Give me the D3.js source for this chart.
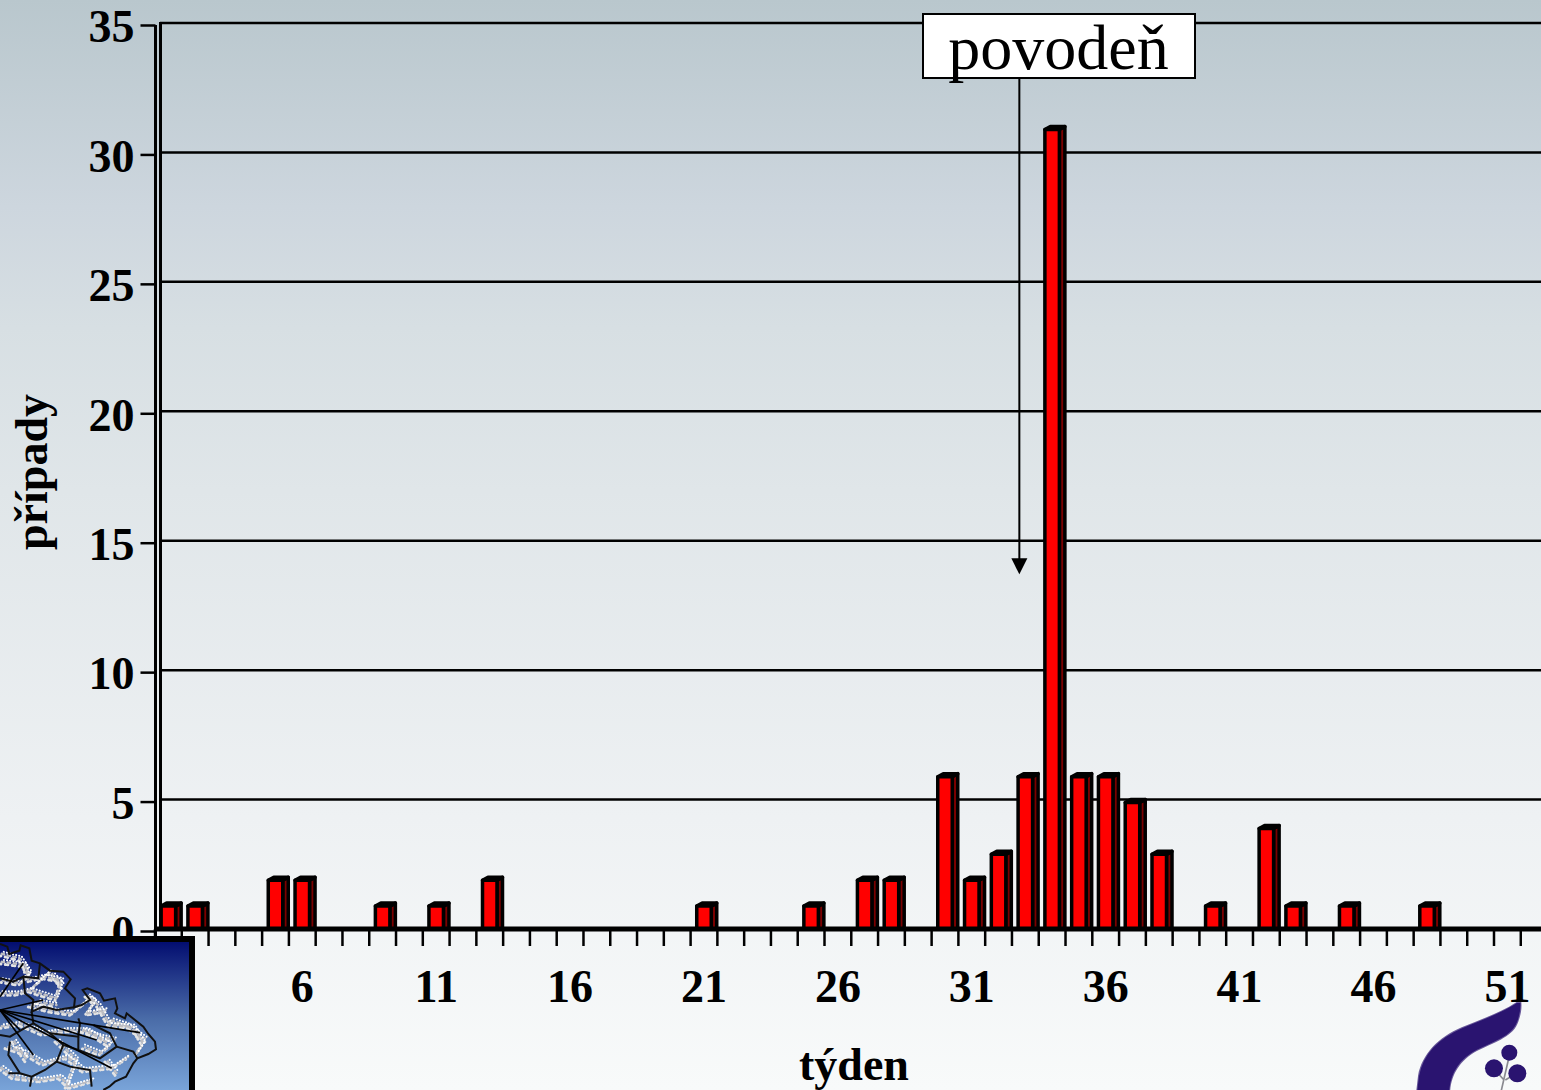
<!DOCTYPE html>
<html>
<head>
<meta charset="utf-8">
<script src="https://cdn.jsdelivr.net/npm/d3@7"></script>
<style>
    html, body { margin: 0; padding: 0; overflow: hidden; }
    svg { display: block; }
    text { font-family: "Liberation Serif", serif; fill: #000; }
</style>
</head>
<body>
<svg id="chart"></svg>
<script>
// data
const weeks = d3.range(1, 53);
const cases = [1, 1, 0, 0, 2, 2, 0, 0, 1, 0, 1, 0, 2, 0, 0, 0, 0, 0, 0, 0, 1, 0, 0, 0, 1, 0,
    2, 2, 0, 6, 2, 3, 6, 31, 6, 6, 5, 3, 0, 1, 0, 4, 1, 0, 1, 0, 0, 1, 0, 0, 0, 0];
const yTicks = [0, 5, 10, 15, 20, 25, 30, 35];
const xLabels = [1, 6, 11, 16, 21, 26, 31, 36, 41, 46, 51];
const floodLabel = "povodeň";
const xTitle = "týden";
const yTitle = "případy";
const floodValue = 13.7;   // where the arrow tip lands on the y scale

const width = 1541;
const height = 1090;

// plot settings
const CONFIG = {
    left: 155,
    weekStep: 26.78,
    y0: 929,
    y35: 23,
    wallDepth: 5,       // double wall on the left
    tickDrop: 2,        // left ticks sit a little lower than the gridlines
    barWidth: 14.5,
    depthX: 5.5,
    depthY: 3,
    fontSize: 46
};

const svg = d3.select("#chart").attr("width", width).attr("height", height);
const defs = svg.append("defs");

// background
const bg = defs.append("linearGradient").attr("id", "bg")
    .attr("x1", 0).attr("x2", 0).attr("y1", 0).attr("y2", 1);
[[0, "#b9c7cd"], [0.19, "#cdd6de"], [0.3, "#d7dfe3"], [0.45, "#e0e6e9"], [0.75, "#eef1f3"], [1, "#f8fafa"]]
    .forEach(([o, c]) => bg.append("stop").attr("offset", o).attr("stop-color", c));
svg.append("rect").attr("width", width).attr("height", height).attr("fill", "url(#bg)");

// scales
const x = d3.scaleBand()
    .domain(weeks)
    .range([CONFIG.left, CONFIG.left + CONFIG.weekStep * weeks.length]);
const y = d3.scaleLinear().domain([0, 35]).range([CONFIG.y0, CONFIG.y35]);

// logo goes under the tick labels
const logo = svg.append("g").attr("transform", "translate(1400,980) scale(0.3333)");
logo.append("path")
    .attr("d", "M350,66 C300,100 240,118 185,142 C115,172 66,222 54,288 L48,340 L150,340 C152,290 175,242 232,212 C295,182 340,168 355,125 C362,105 366,88 364,66 Z")
    .attr("fill", "#2a1470")
    .attr("stroke", "#ffffff").attr("stroke-opacity", 0.3).attr("stroke-width", 6);
logo.append("path").attr("d", "M325,240 L302,340 M285,270 L312,300 M350,280 L316,300")
    .attr("stroke", "#8a8a90").attr("stroke-width", 5).attr("fill", "none");
logo.selectAll("circle")
    .data([[328, 218, 24], [282, 265, 27], [352, 280, 27]])
    .enter().append("circle")
    .attr("cx", d => d[0]).attr("cy", d => d[1]).attr("r", d => d[2])
    .attr("fill", "#2a1470");

// gridlines
svg.append("g").selectAll("line")
    .data(yTicks.filter(d => d > 0))
    .enter().append("line")
    .attr("x1", CONFIG.left + CONFIG.wallDepth).attr("x2", width)
    .attr("y1", d => y(d)).attr("y2", d => y(d))
    .attr("stroke", "#000").attr("stroke-width", 2.5);

// left axis (front wall line, ticks, labels)
const yAxis = svg.append("g")
    .attr("transform", `translate(${CONFIG.left + 0.5},${CONFIG.tickDrop})`)
    .call(d3.axisLeft(y).tickValues(yTicks).tickSize(15).tickPadding(6).tickFormat(d => d));
yAxis.select(".domain").remove();
yAxis.selectAll("line").attr("stroke", "#000").attr("stroke-width", 2.5);
yAxis.selectAll("text")
    .attr("font-size", CONFIG.fontSize).attr("font-weight", "bold")
    .attr("font-family", "Liberation Serif")
    .attr("dy", "0.32em").attr("y", 2);

// back wall line
svg.append("line")
    .attr("x1", CONFIG.left + 0.5).attr("x2", CONFIG.left + 0.5)
    .attr("y1", y(35) + CONFIG.tickDrop).attr("y2", y(0) + 17)
    .attr("stroke", "#000").attr("stroke-width", 3);
svg.append("line")
    .attr("x1", CONFIG.left + CONFIG.wallDepth + 0.5).attr("x2", CONFIG.left + CONFIG.wallDepth + 0.5)
    .attr("y1", y(35) - 1).attr("y2", y(0))
    .attr("stroke", "#000").attr("stroke-width", 3);

// bottom axis: boundary ticks between the weeks
svg.append("g").selectAll("line")
    .data(weeks)
    .enter().append("line")
    .attr("x1", d => x(d)).attr("x2", d => x(d))
    .attr("y1", y(0)).attr("y2", y(0) + 17)
    .attr("stroke", "#000").attr("stroke-width", 2.5);

const xAxis = svg.append("g")
    .attr("transform", `translate(0,${y(0)})`)
    .call(d3.axisBottom(x).tickValues(xLabels).tickSize(0).tickPadding(40).tickFormat(d => d));
xAxis.select(".domain").remove();
xAxis.selectAll("text")
    .attr("font-size", CONFIG.fontSize).attr("font-weight", "bold")
    .attr("font-family", "Liberation Serif");

// bars, drawn as little boxes
const bars = svg.append("g").selectAll("g")
    .data(weeks.map((w, i) => ({ week: w, value: cases[i] })).filter(d => d.value > 0))
    .enter().append("g")
    .attr("stroke", "#000").attr("stroke-width", 3.5).attr("stroke-linejoin", "round");

const frontX = d => x(d.week) + x.bandwidth() / 2 - CONFIG.barWidth / 2;
const frontTop = d => y(d.value) + CONFIG.depthY;

// side
bars.append("path")
    .attr("fill", "#7a0000")
    .attr("d", d => {
        const x1 = frontX(d) + CONFIG.barWidth;
        return `M${x1},${frontTop(d)} L${x1 + CONFIG.depthX},${y(d.value)} L${x1 + CONFIG.depthX},${y(0)} L${x1},${y(0)} Z`;
    });
// top
bars.append("path")
    .attr("fill", "#000")
    .attr("d", d => {
        const x0 = frontX(d);
        return `M${x0},${frontTop(d)} L${x0 + CONFIG.depthX},${y(d.value)} L${x0 + CONFIG.barWidth + CONFIG.depthX},${y(d.value)} L${x0 + CONFIG.barWidth},${frontTop(d)} Z`;
    });
// front
bars.append("rect")
    .attr("fill", "#ff0000")
    .attr("x", frontX)
    .attr("y", frontTop)
    .attr("width", CONFIG.barWidth)
    .attr("height", d => y(0) - frontTop(d));

// thick floor line
svg.append("line")
    .attr("x1", CONFIG.left).attr("x2", width)
    .attr("y1", y(0)).attr("y2", y(0))
    .attr("stroke", "#000").attr("stroke-width", 5);

// axis titles
svg.append("text")
    .attr("x", 854).attr("y", 1080)
    .attr("text-anchor", "middle")
    .attr("font-size", CONFIG.fontSize).attr("font-weight", "bold")
    .text(xTitle);
svg.append("text")
    .attr("transform", "translate(47,472) rotate(-90)")
    .attr("text-anchor", "middle")
    .attr("font-size", CONFIG.fontSize).attr("font-weight", "bold")
    .text(yTitle);

// flood annotation
const floodX = x(33) + x.bandwidth() / 2 - 6;
svg.append("line")
    .attr("x1", floodX).attr("x2", floodX)
    .attr("y1", 78).attr("y2", y(floodValue) - 10)
    .attr("stroke", "#000").attr("stroke-width", 2);
svg.append("path")
    .attr("fill", "#000")
    .attr("d", `M${floodX - 8},${y(floodValue) - 16} L${floodX + 8},${y(floodValue) - 16} L${floodX},${y(floodValue)} Z`);
svg.append("rect")
    .attr("x", 923).attr("y", 14).attr("width", 272).attr("height", 64)
    .attr("fill", "#fff").attr("stroke", "#000").attr("stroke-width", 2);
svg.append("text")
    .attr("x", 1058.5).attr("y", 69)
    .attr("text-anchor", "middle")
    .attr("font-size", 64)
    .text(floodLabel);

// inset map, bottom left
const insetGrad = defs.append("linearGradient").attr("id", "insetGrad")
    .attr("x1", 0).attr("x2", 0).attr("y1", 0).attr("y2", 1);
[[0, "#000a6e"], [0.5, "#4a6ca8"], [1, "#7fabdf"]]
    .forEach(([o, c]) => insetGrad.append("stop").attr("offset", o).attr("stop-color", c));
defs.append("clipPath").attr("id", "insetClip")
    .append("rect").attr("x", 0).attr("y", 943).attr("width", 189).attr("height", 147);

const inset = svg.append("g");
inset.append("rect")
    .attr("x", -5).attr("y", 939).attr("width", 197).attr("height", 160)
    .attr("fill", "url(#insetGrad)")
    .attr("stroke", "#000").attr("stroke-width", 6);

const mapG = inset.append("g")
    .attr("clip-path", "url(#insetClip)")
    .append("g")
    .attr("transform", "translate(0,930) scale(0.3333)");

// frosted fill of the country: round speckles along a few runs
const frost = [
    "M0,95 L40,100 L75,105 L85,150 L130,140 L185,150 L170,205 L120,190 L90,180 L50,190 L0,190",
    "M0,70 L60,85 L90,130 L60,160 L0,150",
    "M100,170 L150,125 L190,170 M110,215 L170,225",
    "M90,225 L150,240 L215,250 L270,205 L295,225 L330,285 L400,290 L430,340 L410,370",
    "M260,195 L285,215 L260,250 L320,240",
    "M0,290 L60,280 L130,310 L200,300 L260,300 L330,345 L300,370 L250,350",
    "M245,300 L300,320 L350,330 M330,270 L380,285 L440,330",
    "M20,350 L80,370 L130,400 L200,380 L250,420 L340,410 L385,380",
    "M0,410 L40,440 L120,450 L180,440 L210,470 L280,450",
    "M170,330 L230,390 L200,470 M40,330 L80,390 M320,390 L350,430"
];
// three passes with different dash rhythm so it does not read as stripes
[[9, "0.5 7 0.5 13", 0, "#e4e4e4"], [8, "0.5 11 0.5 6", 6, "#bdbdc2"], [6, "0.5 9", 3, "#ffffff"]].forEach(([w, dash, off, col], i) => {
    mapG.selectAll(`path.frost${i}`)
        .data(frost)
        .enter().append("path")
        .attr("class", `frost${i}`)
        .attr("d", d => d)
        .attr("transform", `translate(${i * 5 - 5},${6 - i * 6})`)
        .attr("fill", "none")
        .attr("stroke", col)
        .attr("stroke-width", w)
        .attr("stroke-linecap", "round")
        .attr("stroke-dasharray", dash)
        .attr("stroke-dashoffset", off);
});

// borders and lines from the centre
const borders = [
    "M0,42 L22,50 L28,72 L58,62 L62,46 L88,55 L95,92 L120,100 L150,122 L190,125 L212,148 L195,175 L225,205 L222,232 L245,225 L270,210 L248,180 L262,175 L300,190 L312,212 L345,205 L352,235 L345,250 L375,265 L380,250 L430,290 L445,312 L465,335 L468,358 L445,372 L412,385 L400,400 L378,440 L345,455 L328,470 L310,480",
    "M0,145 L40,155 L70,140 L75,190 L100,210 L95,245 L130,230 L170,240 L222,232",
    "M120,100 L115,145 L70,140",
    "M95,245 L100,280 L65,300 L30,320 L0,315",
    "M100,280 L150,310 L235,320 L240,280 L235,265",
    "M235,320 L235,360 L300,385 L350,350 L330,310 L280,285",
    "M150,310 L190,345 L235,360 M190,345 L170,395 L210,410 L270,420 L275,470",
    "M170,395 L135,420 L95,440 L60,430 L25,375 L30,335",
    "M25,430 L60,430 M95,440 L90,470",
    "M350,350 L400,365 L412,385"
];
mapG.selectAll("path.border")
    .data(borders)
    .enter().append("path")
    .attr("class", "border")
    .attr("d", d => d)
    .attr("fill", "none")
    .attr("stroke", "#111")
    .attr("stroke-width", 6);

const rays = ["M0,240 L420,308", "M0,240 L335,415", "M0,240 L290,330", "M0,240 L130,210", "M0,200 L70,100", "M0,240 L100,375", "M0,240 L60,300"];
mapG.selectAll("path.ray")
    .data(rays)
    .enter().append("path")
    .attr("class", "ray")
    .attr("d", d => d)
    .attr("fill", "none")
    .attr("stroke", "#000")
    .attr("stroke-width", 5);
</script>
</body>
</html>
